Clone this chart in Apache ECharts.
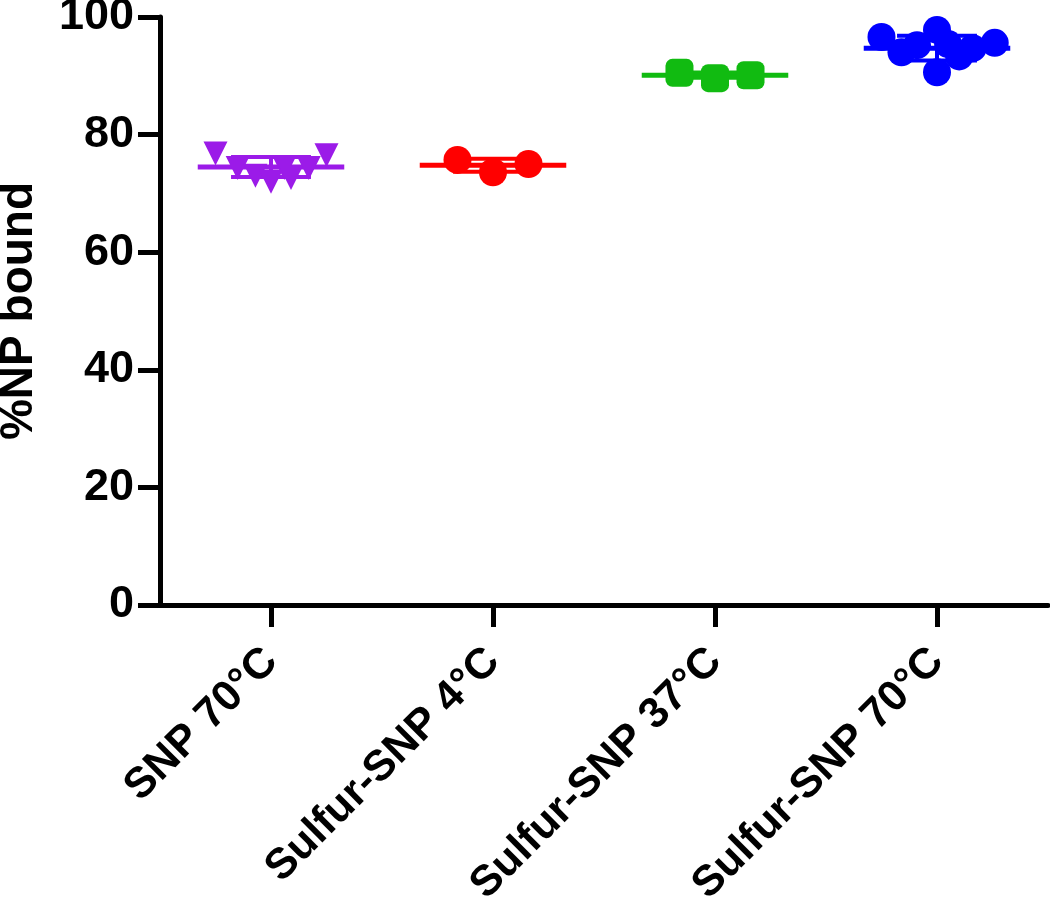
<!DOCTYPE html>
<html>
<head>
<meta charset="utf-8">
<script src="https://cdn.jsdelivr.net/npm/echarts@6/dist/echarts.min.js"></script>
<style>html,body{margin:0;padding:0;background:#fff;}#c{width:1050px;height:901px;}</style>
</head>
<body>
<div id="c"></div>
<script>
const categories = ['SNP 70°C', 'Sulfur-SNP 4°C', 'Sulfur-SNP 37°C', 'Sulfur-SNP 70°C'];
const yTicks = [0, 20, 40, 60, 80, 100];

const snp70Values = [76.8, 74.3, 73.0, 72.0, 74.3, 72.6, 74.3, 76.5];
const snp70Jitter = [-0.25, -0.15, -0.07, 0.0, 0.06, 0.09, 0.17, 0.25];

const sulfur4Values = [75.7, 73.6, 75.0];
const sulfur4Jitter = [-0.16, 0.0, 0.16];

const sulfur37Values = [90.5, 89.6, 90.1];
const sulfur37Jitter = [-0.16, 0.0, 0.16];

const sulfur70Values = [96.6, 97.8, 90.6, 95.6, 94.0, 93.3, 94.7, 95.2, 95.4];
const sulfur70Jitter = [-0.25, 0.0, 0.0, 0.26, -0.16, 0.10, 0.16, -0.09, 0.05];

const groupMeans = [74.5, 74.8, 90.1, 94.7];
const groupSDs = [1.7, 1.1, 0.45, 2.1];

const colors = ['#9B1BE8', '#FF0000', '#11BB11', '#0000FF'];
const symbols = ['triangle', 'circle', 'roundRect', 'circle'];
const symbolSizes = [24, 28, 28, 28];
const symbolRotates = [180, 0, 0, 0];

const groups = [
  [snp70Values, snp70Jitter],
  [sulfur4Values, sulfur4Jitter],
  [sulfur37Values, sulfur37Jitter],
  [sulfur70Values, sulfur70Jitter]
];

const FONT = 'Liberation Sans, Arial, Helvetica, sans-serif';

const chart = echarts.init(document.getElementById('c'));

const errorSeries = {
  type: 'custom',
  xAxisIndex: 1,
  yAxisIndex: 0,
  z: 2,
  data: groupMeans.map((m, i) => [i, m, groupSDs[i]]),
  renderItem: function (params, api) {
    const i = api.value(0), m = api.value(1), sd = api.value(2);
    const c = colors[params.dataIndex];
    const pL = api.coord([i - 0.33, m]);
    const pR = api.coord([i + 0.33, m]);
    const top = api.coord([i, m + sd]);
    const bot = api.coord([i, m - sd]);
    const capL = api.coord([i - 0.18, m]);
    const capR = api.coord([i + 0.18, m]);
    const st = { stroke: c, lineWidth: 5 };
    return {
      type: 'group',
      children: [
        { type: 'line', shape: { x1: pL[0], y1: pL[1], x2: pR[0], y2: pR[1] }, style: st },
        { type: 'line', shape: { x1: top[0], y1: top[1], x2: bot[0], y2: bot[1] }, style: { stroke: c, lineWidth: 4 } },
        { type: 'line', shape: { x1: capL[0], y1: top[1], x2: capR[0], y2: top[1] }, style: { stroke: c, lineWidth: 4 } },
        { type: 'line', shape: { x1: capL[0], y1: bot[1], x2: capR[0], y2: bot[1] }, style: { stroke: c, lineWidth: 4 } }
      ]
    };
  }
};

const scatterSeries = groups.map((g, gi) => ({
  type: 'scatter',
  xAxisIndex: 1,
  yAxisIndex: 0,
  z: 3,
  symbol: symbols[gi],
  symbolSize: symbolSizes[gi],
  symbolRotate: symbolRotates[gi],
  itemStyle: { color: colors[gi], opacity: 1 },
  silent: true,
  data: g[0].map((v, k) => [gi + g[1][k], v])
}));

chart.setOption({
  animation: false,
  grid: { left: 160, right: 2, top: 17, bottom: 296, containLabel: false, outerBoundsMode: 'none' },
  xAxis: [
    {
      type: 'category',
      data: categories,
      boundaryGap: true,
      axisLine: { show: true, onZero: false, lineStyle: { color: '#000', width: 5 } },
      axisTick: { show: true, alignWithLabel: true, length: 22, lineStyle: { color: '#000', width: 5 } },
      axisLabel: {
        rotate: 45, margin: 50, color: '#000',
        fontFamily: FONT, fontWeight: 'bold', fontSize: 43
      },
      splitLine: { show: false }
    },
    {
      type: 'value',
      min: -0.5, max: 3.5,
      show: false,
      axisLine: { onZero: false },
      splitLine: { show: false }
    }
  ],
  yAxis: [{
    type: 'value',
    min: yTicks[0], max: yTicks[yTicks.length - 1], interval: 20,
    name: '%NP bound',
    nameLocation: 'middle',
    nameGap: 118,
    nameRotate: 90,
    nameTextStyle: { color: '#000', fontFamily: FONT, fontWeight: 'bold', fontSize: 46 },
    axisLine: { show: true, onZero: false, lineStyle: { color: '#000', width: 5 } },
    axisTick: { show: true, length: 22, lineStyle: { color: '#000', width: 5 } },
    axisLabel: { margin: 26, color: '#000', fontFamily: FONT, fontWeight: 'bold', fontSize: 45 },
    splitLine: { show: false }
  }],
  series: [errorSeries].concat(scatterSeries)
});
</script>
</body>
</html>
